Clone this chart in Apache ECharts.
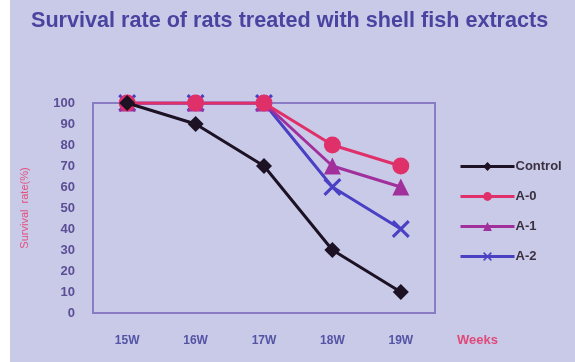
<!DOCTYPE html>
<html>
<head>
<meta charset="utf-8">
<script src="https://cdn.jsdelivr.net/npm/echarts@6/dist/echarts.min.js"></script>
<style>
  html, body { margin: 0; padding: 0; background: #c9c9e8; }
  #chart { width: 575px; height: 362px; }
</style>
</head>
<body>
<div id="chart"></div>
<script>
// Weeks on the x axis
const weeks = ['15W', '16W', '17W', '18W', '19W'];
// Survival rate (%) per group
const control = [100, 90, 70, 30, 10];
const a0 = [100, 100, 100, 80, 70];
const a1 = [100, 100, 100, 70, 60];
const a2 = [100, 100, 100, 60, 40];

const xMark = 'path://M0,1.2L1.2,0L10,8.8L8.8,10Z M8.8,0L10,1.2L1.2,10L0,8.8Z';

function line(name, data, color, symbol, size, z) {
  return {
    name: name,
    type: 'line',
    data: data,
    symbol: symbol,
    symbolSize: size,
    z: z,
    lineStyle: { color: color, width: 3 },
    itemStyle: { color: color },
    emphasis: { disabled: true }
  };
}

const chart = echarts.init(document.getElementById('chart'), null, { renderer: 'canvas' });
chart.setOption({
  backgroundColor: '#c9c9e8',
  animation: false,
  title: {
    text: 'Survival rate of rats treated with shell fish extracts',
    left: 26,
    top: 5,
    textStyle: {
      fontFamily: 'Liberation Sans',
      fontSize: 21.6,
      fontWeight: 'bold',
      color: '#4a44a0'
    }
  },
  graphic: [
    { type: 'rect', left: 0, top: 0, shape: { width: 10, height: 362 }, style: { fill: '#ffffff' }, silent: true },
    {
      type: 'text', left: 457, top: 334,
      style: { text: 'Weeks', fill: '#e04a7a', font: 'bold 13px "Liberation Sans"' }
    }
  ],
  legend: {
    orient: 'vertical',
    left: 454,
    top: 155,
    itemWidth: 54,
    itemHeight: 11,
    itemGap: 17,
    lineStyle: { width: 3 },
    data: ['Control', 'A-0', 'A-1', 'A-2'],
    textStyle: { fontFamily: 'Liberation Sans', fontSize: 13, fontWeight: 'bold', color: '#3a3040', padding: [0, 0, 0, -4] }
  },
  grid: {
    left: 93, right: 140, top: 103, bottom: 49,
    show: true,
    backgroundColor: 'transparent',
    borderColor: '#8a7cc4',
    borderWidth: 2
  },
  xAxis: {
    type: 'category',
    data: weeks,
    boundaryGap: true,
    axisLine: { show: true, lineStyle: { color: '#8a7cc4', width: 2 } },
    axisTick: { show: false },
    axisLabel: { margin: 22, fontFamily: 'Liberation Sans', fontSize: 12, fontWeight: 'bold', color: '#5454a4' }
  },
  yAxis: {
    type: 'value',
    min: 0, max: 100, interval: 10,
    name: 'Survival  rate(%)',
    nameLocation: 'middle',
    nameGap: 63,
    nameRotate: 90,
    nameTextStyle: { fontFamily: 'Liberation Sans', fontSize: 11, color: '#e0507e' },
    axisLine: { show: true, lineStyle: { color: '#8a7cc4', width: 2 } },
    axisTick: { show: false },
    splitLine: { show: false },
    axisLabel: { margin: 18, fontFamily: 'Liberation Sans', fontSize: 13, fontWeight: 'bold', color: '#5a4e94' }
  },
  series: [
    line('Control', control, '#1c1224', 'diamond', 16, 5),
    line('A-2', a2, '#4a40c4', xMark, 18, 2),
    line('A-1', a1, '#a2309c', 'triangle', 17, 3),
    line('A-0', a0, '#e0306a', 'circle', 17, 4)
  ]
});
</script>
</body>
</html>
